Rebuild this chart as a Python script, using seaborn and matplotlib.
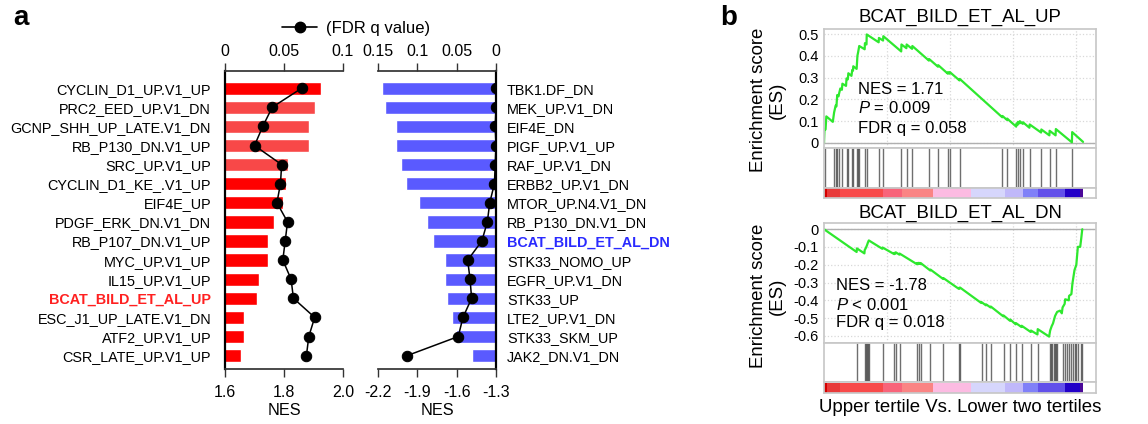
import matplotlib
matplotlib.use("Agg")
import matplotlib.pyplot as plt
from matplotlib.lines import Line2D
import numpy as np
import seaborn as sns

sns.set_theme(style="white")
plt.rcParams["font.family"] = ["Liberation Sans", "DejaVu Sans"]
plt.rcParams["axes.unicode_minus"] = False
plt.rcParams["mathtext.fontset"] = "custom"
plt.rcParams["mathtext.it"] = "Liberation Sans:italic"
plt.rcParams["mathtext.rm"] = "Liberation Sans"
for key in ("text.color", "axes.labelcolor", "xtick.labelcolor", "ytick.labelcolor"):
    plt.rcParams[key] = "black"

# ---- panel a: gene sets enriched in the upper tertile ----
up_sets = [
    "CYCLIN_D1_UP.V1_UP", "PRC2_EED_UP.V1_DN", "GCNP_SHH_UP_LATE.V1_DN",
    "RB_P130_DN.V1_UP", "SRC_UP.V1_UP", "CYCLIN_D1_KE_.V1_UP", "EIF4E_UP",
    "PDGF_ERK_DN.V1_DN", "RB_P107_DN.V1_UP", "MYC_UP.V1_UP", "IL15_UP.V1_UP",
    "BCAT_BILD_ET_AL_UP", "ESC_J1_UP_LATE.V1_DN", "ATF2_UP.V1_UP",
    "CSR_LATE_UP.V1_UP",
]
up_nes = [1.925, 1.905, 1.885, 1.885, 1.815, 1.806, 1.797, 1.766, 1.746,
          1.746, 1.715, 1.71, 1.665, 1.665, 1.655]
up_fdr = [0.065, 0.040, 0.032, 0.025, 0.048, 0.047, 0.044, 0.053, 0.051,
          0.049, 0.056, 0.058, 0.076, 0.071, 0.069]
up_colors = ["#ff0000", "#f84848", "#f84848", "#f84848", "#f84848"] + ["#ff0000"] * 10

# ---- panel a: gene sets enriched in the lower two tertiles ----
dn_sets = [
    "TBK1.DF_DN", "MEK_UP.V1_DN", "EIF4E_DN", "PIGF_UP.V1_UP", "RAF_UP.V1_DN",
    "ERBB2_UP.V1_DN", "MTOR_UP.N4.V1_DN", "RB_P130_DN.V1_DN",
    "BCAT_BILD_ET_AL_DN", "STK33_NOMO_UP", "EGFR_UP.V1_DN", "STK33_UP",
    "LTE2_UP.V1_DN", "STK33_SKM_UP", "JAK2_DN.V1_DN",
]
dn_nes = [-2.17, -2.147, -2.063, -2.063, -2.025, -1.986, -1.887, -1.826,
          -1.78, -1.689, -1.689, -1.674, -1.636, -1.605, -1.483]
dn_fdr = [0.0, 0.0, 0.001, 0.0, 0.001, 0.002, 0.008, 0.011, 0.018, 0.036,
          0.033, 0.031, 0.042, 0.048, 0.113]

# ---- panel b: running enrichment scores (rank in % of list) ----
up_rank = [0, 0.2, 0.6, 0.9, 3.4, 3.9, 4.5, 4.8, 5.1, 5.6, 5.8, 6.3, 6.9, 7.1,
           8.5, 8.7, 9.2, 9.4, 10.6, 10.9, 11.2, 11.3, 12.6, 12.9, 13.2, 13.6,
           15.7, 15.8, 16.4, 16.5, 21.1, 21.2, 22.8, 22.9, 29.8, 29.9, 31.8,
           31.9, 34.0, 34.1, 40.5, 40.6, 44.0, 44.1, 47.8, 47.9, 48.5, 48.6,
           52.3, 52.4, 68.8, 68.9, 70.6, 70.7, 74.2, 74.3, 74.8, 74.9, 75.5,
           75.6, 76.7, 76.8, 79.3, 79.4, 83.8, 83.9, 87.0, 87.1, 89.4, 89.5,
           95.7, 95.8, 100]
up_es = [0.0, 0.065, 0.062, 0.122, 0.097, 0.140, 0.172, 0.168, 0.220, 0.214,
         0.226, 0.250, 0.244, 0.272, 0.262, 0.296, 0.292, 0.320, 0.308, 0.335,
         0.332, 0.352, 0.340, 0.400, 0.418, 0.445, 0.430, 0.458, 0.452, 0.498,
         0.462, 0.482, 0.470, 0.490, 0.420, 0.452, 0.435, 0.452, 0.432, 0.445,
         0.378, 0.385, 0.350, 0.357, 0.318, 0.325, 0.318, 0.325, 0.287, 0.294,
         0.118, 0.124, 0.106, 0.112, 0.075, 0.090, 0.084, 0.097, 0.090, 0.100,
         0.088, 0.095, 0.070, 0.085, 0.048, 0.062, 0.035, 0.056, 0.035, 0.064,
         0.003, 0.050, 0.005]
up_hits = [0.4, 3.9, 4.5, 5.1, 5.8, 7.1, 8.7, 9.4, 10.9, 11.3, 12.9, 13.2,
           13.6, 15.8, 16.5, 21.2, 22.9, 29.9, 31.9, 34.1, 40.6, 44.1, 47.9,
           48.6, 52.4, 68.9, 70.7, 74.3, 74.9, 75.6, 76.8, 79.4, 83.9, 87.1,
           89.5, 95.8]

dn_rank = [0, 12.6, 12.7, 15.6, 15.7, 16.2, 16.6, 16.9, 17.3, 22.5, 22.6,
           27.1, 27.2, 27.6, 27.7, 29.1, 29.2, 35.9, 36.0, 36.5, 36.6, 37.2,
           37.3, 41.0, 41.1, 46.0, 46.1, 52.0, 52.1, 52.4, 52.5, 60.7, 60.8,
           62.5, 62.6, 64.3, 64.4, 69.2, 69.3, 71.8, 71.9, 74.0, 74.1, 76.2,
           76.3, 79.8, 79.9, 82.4, 82.5, 86.9, 87.3, 87.9, 88.4, 89.2, 90.0,
           91.1, 91.8, 92.1, 92.9, 93.1, 94.5, 94.6, 95.5, 95.9, 96.7, 97.4,
           98.0, 98.9, 99.3, 99.7]
dn_es = [0.0, -0.128, -0.108, -0.136, -0.118, -0.104, -0.090, -0.077, -0.063,
         -0.110, -0.103, -0.140, -0.133, -0.137, -0.130, -0.143, -0.137,
         -0.197, -0.190, -0.195, -0.189, -0.195, -0.190, -0.232, -0.227,
         -0.280, -0.275, -0.335, -0.330, -0.333, -0.328, -0.415, -0.410,
         -0.428, -0.423, -0.440, -0.435, -0.490, -0.485, -0.515, -0.508,
         -0.535, -0.528, -0.550, -0.543, -0.578, -0.570, -0.592, -0.562,
         -0.604, -0.570, -0.545, -0.530, -0.488, -0.465, -0.458, -0.473,
         -0.440, -0.420, -0.394, -0.400, -0.375, -0.365, -0.305, -0.230,
         -0.200, -0.099, -0.099, -0.052, 0.0]
dn_hits = [12.7, 15.7, 16.2, 16.6, 16.9, 17.3, 22.6, 27.2, 27.7, 29.2, 36.0,
           36.6, 37.3, 41.1, 46.1, 52.1, 52.5, 60.8, 62.6, 64.4, 69.3, 71.9,
           74.1, 76.3, 79.9, 82.5, 87.1, 87.7, 88.1, 88.6, 89.0, 89.4, 90.0,
           92.1, 92.9, 93.8, 94.6, 95.5, 96.1, 96.8, 97.4, 98.1, 99.1, 99.7]

# ranked-list colour bar: segment edges (rank %) and colours
bar_edges = [0, 1.0, 6.2, 22.9, 30.0, 42.2, 56.9, 69.8, 76.9, 82.6, 92.9, 98.7, 100]
bar_colors = ["#d40000", "#e83a3a", "#f84a4a", "#f8647a", "#fa8484", "#fcbbe2",
              "#d6d6fc", "#c0b8fa", "#8080f8", "#6250ea", "#2200c8", "#4a0898"]
grid_ranks = [24.3, 48.6, 72.9, 97.2]

W, H = 1148, 424
fig = plt.figure(figsize=(W / 100, H / 100), dpi=100)


def box(x0, y0, x1, y1):
    """Pixel box (from top-left) -> figure fraction rect."""
    return [x0 / W, 1 - y1 / H, (x1 - x0) / W, (y1 - y0) / H]


def ftext(x, y, s, **kw):
    fig.text(x / W, 1 - y / H, s, **kw)


def nes_panel(rect, sets, nes, fdr, colors, xlim, qlim, xticks, qticks, side, hl, hl_color):
    rows = np.arange(len(sets))
    ax = fig.add_axes(rect)
    sns.barplot(x=nes, y=rows, hue=sets, palette=dict(zip(sets, colors)),
                orient="y", native_scale=True, width=0.7, saturation=1,
                errorbar=None, legend=False, ax=ax)
    ax.set_xlim(*xlim)
    ax.set_ylim(len(sets) - 0.3, -0.9)
    ax.set_xticks(xticks, labels=[f"{t:.1f}" for t in xticks])
    ax.set_yticks(rows, labels=sets)
    ax.set_xlabel("NES", fontsize=11.7, labelpad=2)
    ax.set_ylabel("")
    if side == "right":
        ax.yaxis.tick_right()
    ax.tick_params(axis="y", length=0, pad=10 if side == "left" else 8, labelsize=10.4)
    ax.tick_params(axis="x", direction="out", length=5.5, width=1, pad=6,
                   labelsize=11.5, bottom=True, color="#333333")
    for name, sp in ax.spines.items():
        sp.set_visible(name in ("bottom", side))
    ax.spines["bottom"].set_color("#333333")
    ax.spines[side].set_linewidth(1.6)
    ax.spines[side].set_color("black")
    for lab in ax.get_yticklabels():
        if lab.get_text() == hl:
            lab.set_color(hl_color)
            lab.set_fontweight("bold")

    axq = ax.twiny()
    sns.lineplot(x=fdr, y=rows, sort=False, orient="y", estimator=None,
                 marker="o", markersize=7.5, mec="black", mfc="black",
                 color="black", lw=1.1, ax=axq)
    axq.set_xlim(*qlim)
    axq.set_ylim(len(sets) - 0.3, -0.9)
    axq.set_xticks(qticks, labels=[f"{t:g}" for t in qticks])
    axq.set_xlabel("")
    axq.tick_params(axis="x", direction="out", length=5.5, width=1, pad=3,
                    labelsize=11.5, top=True, color="#333333")
    for name, sp in axq.spines.items():
        sp.set_visible(name == "top")
    axq.spines["top"].set_color("#333333")
    return ax


nes_panel(box(225, 71, 343, 369), up_sets, up_nes, up_fdr, up_colors,
          (1.6, 2.0), (0, 0.1), [1.6, 1.8, 2.0], [0, 0.05, 0.1],
          "left", "BCAT_BILD_ET_AL_UP", "#ff2020")
nes_panel(box(378, 71, 496, 369), dn_sets, dn_nes, dn_fdr, ["#5a5aff"] * len(dn_sets),
          (-2.2, -1.3), (0.15, 0), [-2.2, -1.9, -1.6, -1.3], [0.15, 0.1, 0.05, 0],
          "right", "BCAT_BILD_ET_AL_DN", "#2a2aff")

handle = Line2D([], [], color="black", marker="o", markersize=7.5, lw=1.2)
fig.legend(handles=[handle], labels=["(FDR q value)"], loc="center",
           bbox_to_anchor=(356 / W, 1 - 28 / H), frameon=False, fontsize=12,
           handlelength=2.1, handletextpad=0.5)

ftext(21, 18, "a", fontsize=20, fontweight="bold", ha="center", va="center")
ftext(729, 18, "b", fontsize=20, fontweight="bold", ha="center", va="center")


def gsea_panel(ys, ranks, es, hits, ylim, yticks, title, title_y, stats, stats_x, stats_y, label_y):
    y_top, y_es, y_hit, y_bot = ys
    grey = "#c8c8c8"
    ax = fig.add_axes(box(824, y_top, 1096, y_es))
    ax.axhline(0, color="#b0b0b0", lw=1)
    sns.lineplot(x=ranks, y=es, sort=False, estimator=None, color="#2ee82e",
                 lw=1.6, ax=ax)
    ax.set_xlim(0, 105)
    ax.set_ylim(*ylim)
    ax.set_yticks(yticks, labels=[f"{t:g}" for t in yticks])
    ax.set_xticks(grid_ranks, labels=[])
    ax.grid(True, ls=":", color="#d8d8d8", lw=0.9)
    ax.tick_params(axis="y", length=0, pad=4, labelsize=10.5)
    ax.tick_params(axis="x", length=0)
    ax.set_xlabel("")
    for sp in ax.spines.values():
        sp.set_color(grey)

    axh = fig.add_axes(box(824, y_es, 1096, y_hit))
    axh.vlines(hits, 0, 1, color="#222222", alpha=0.65, lw=1)
    axh.set_xlim(0, 105)
    axh.set_ylim(0, 1)
    axh.set_xticks([])
    axh.set_yticks([])
    for sp in axh.spines.values():
        sp.set_color(grey)

    axc = fig.add_axes(box(824, y_hit, 1096, y_bot))
    lefts = bar_edges[:-1]
    widths = np.diff(bar_edges)
    axc.barh(0.5, widths, left=lefts, height=1, color=bar_colors, lw=0)
    axc.set_xlim(0, 105)
    axc.set_ylim(0, 1.05)
    axc.set_xticks([])
    axc.set_yticks([])
    for sp in axc.spines.values():
        sp.set_color(grey)

    ftext(960, title_y, title, fontsize=13.4, ha="center", va="center")
    for s, yy in zip(stats, stats_y):
        ftext(stats_x, yy, s, fontsize=12, ha="left", va="center")
    ftext(768, label_y, "Enrichment score\n(ES)", fontsize=13.4, rotation=90,
          ha="center", va="center", multialignment="center", linespacing=1.15)


gsea_panel((29, 148, 188, 198), up_rank, up_es, up_hits, (-0.023, 0.523),
           [0, 0.1, 0.2, 0.3, 0.4, 0.5], "BCAT_BILD_ET_AL_UP", 17,
           ["NES = 1.71", "$P$ = 0.009", "FDR q = 0.058"], 858, [90, 108, 128], 100)
gsea_panel((223, 343, 382, 393), dn_rank, dn_es, dn_hits, (-0.64, 0.035),
           [0, -0.1, -0.2, -0.3, -0.4, -0.5, -0.6], "BCAT_BILD_ET_AL_DN", 213,
           ["NES = -1.78", "$P$ < 0.001", "FDR q = 0.018"], 836, [286, 305, 323], 296)

ftext(960, 407, "Upper tertile Vs. Lower two tertiles", fontsize=13.4,
      ha="center", va="center")

fig.savefig("out.png", dpi=100)
plt.close(fig)
